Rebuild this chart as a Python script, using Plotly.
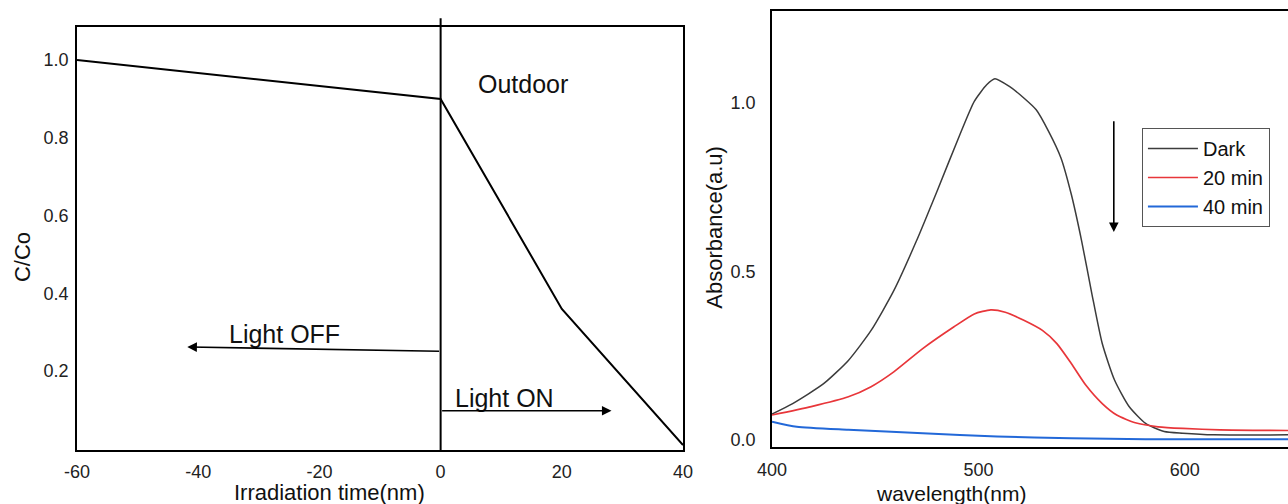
import plotly.graph_objects as go

# ---------------- data ----------------
# left panel: C/Co vs irradiation time
time_min = [-60, 0, 20, 40]
c_over_c0 = [1.0, 0.9, 0.36, 0.01]
left_xticks = [-60, -40, -20, 0, 20, 40]
left_xticklabels = ["-60", "-40", "-20", "0", "20", "40"]
left_yticks = [0.2, 0.4, 0.6, 0.8, 1.0]
left_yticklabels = ["0.2", "0.4", "0.6", "0.8", "1.0"]

# right panel: absorbance spectra
wl_dark = [400, 410, 425, 437, 448, 459, 470, 480, 491, 498, 504, 508, 515, 522, 528,
           534, 540, 545, 550, 555, 560, 566, 573, 581, 590, 599, 614, 650]
abs_dark = [0.077, 0.108, 0.167, 0.236, 0.325, 0.443, 0.591, 0.739, 0.906, 1.005, 1.054,
            1.072, 1.049, 1.015, 0.980, 0.916, 0.837, 0.729, 0.591, 0.433, 0.286, 0.177,
            0.099, 0.049, 0.025, 0.020, 0.015, 0.015]
wl_20 = [400, 419, 437, 448, 459, 473, 488, 498, 506, 513, 522, 531, 538, 545, 552, 560,
         567, 576, 587, 599, 617, 650]
abs_20 = [0.074, 0.099, 0.128, 0.158, 0.202, 0.271, 0.335, 0.374, 0.386, 0.379, 0.355,
          0.325, 0.286, 0.227, 0.163, 0.108, 0.074, 0.051, 0.039, 0.034, 0.030, 0.028]
wl_40 = [400, 412, 437, 473, 509, 545, 581, 650]
abs_40 = [0.054, 0.039, 0.030, 0.020, 0.010, 0.005, 0.002, 0.002]
right_xticks = [400, 500, 600]
right_yticks = [0.0, 0.5, 1.0]
right_yticklabels = ["0.0", "0.5", "1.0"]

FONT = "Liberation Sans, Arial, sans-serif"
TICKFONT = dict(family=FONT, size=18, color="#222")

fig = go.Figure()

fig.add_trace(go.Scatter(x=time_min, y=c_over_c0, mode="lines",
                         line=dict(color="black", width=2),
                         xaxis="x", yaxis="y", showlegend=False))

fig.add_trace(go.Scatter(x=wl_dark, y=abs_dark, mode="lines", name="Dark",
                         line=dict(color="#3c3c3c", width=1.5, shape="spline", smoothing=0.6),
                         xaxis="x2", yaxis="y2"))
fig.add_trace(go.Scatter(x=wl_20, y=abs_20, mode="lines", name="20 min",
                         line=dict(color="#e8363a", width=1.7, shape="spline", smoothing=0.6),
                         xaxis="x2", yaxis="y2"))
fig.add_trace(go.Scatter(x=wl_40, y=abs_40, mode="lines", name="40 min",
                         line=dict(color="#2268d8", width=2, shape="spline", smoothing=0.6),
                         xaxis="x2", yaxis="y2"))

axis_common = dict(showgrid=False, zeroline=False, showline=True, linecolor="black",
                   linewidth=2, ticks="", tickfont=TICKFONT, automargin=False)

fig.update_layout(
    width=1288, height=504,
    margin=dict(l=0, r=0, t=0, b=0, autoexpand=False),
    paper_bgcolor="white", plot_bgcolor="white",
    xaxis=dict(domain=[0.0598, 0.5303], range=[-60, 40], mirror=True,
               tickvals=left_xticks, ticktext=left_xticklabels,
               ticklabelstandoff=4, anchor="y", **axis_common),
    yaxis=dict(domain=[0.1071, 0.9464], range=[-0.003, 1.085], mirror=True,
               tickvals=left_yticks, ticktext=left_yticklabels,
               ticklabelstandoff=3, anchor="x", **axis_common),
    xaxis2=dict(domain=[0.5994, 1.0], range=[400, 650], mirror=True,
                tickvals=right_xticks, ticklabelstandoff=5, anchor="y2", **axis_common),
    yaxis2=dict(domain=[0.1131, 0.9788], range=[-0.021, 1.274], mirror=False,
                tickvals=right_yticks, ticktext=right_yticklabels,
                ticklabelstandoff=11, anchor="x2", **axis_common),
    legend=dict(x=0.8866, y=0.746, xanchor="left", yanchor="top",
                bgcolor="white", bordercolor="#555", borderwidth=1,
                font=dict(family=FONT, size=20, color="#111"),
                itemwidth=50, tracegroupgap=0),
    showlegend=True,
)

# vertical divider at t = 0
fig.add_shape(type="line", xref="x", yref="paper", x0=0, x1=0, y0=0.107, y1=0.964,
              line=dict(color="black", width=2))

ann_font = dict(family=FONT, size=25, color="#111")
title_font = dict(family=FONT, size=22, color="#111")

annotations = [
    dict(text="Outdoor", x=13.6, y=0.938, xref="x", yref="y", showarrow=False, font=ann_font),
    dict(text="Light OFF", x=-25.8, y=0.295, xref="x", yref="y", showarrow=False, font=ann_font),
    dict(text="Light ON", x=10.6, y=0.13, xref="x", yref="y", showarrow=False, font=ann_font),
    # arrows
    dict(x=-41.8, y=0.262, ax=0, ay=0.251, xref="x", yref="y", axref="x", ayref="y",
         showarrow=True, arrowhead=2, arrowsize=1.2, arrowwidth=1.6, arrowcolor="black", text=""),
    dict(x=28.2, y=0.098, ax=0, ay=0.098, xref="x", yref="y", axref="x", ayref="y",
         showarrow=True, arrowhead=2, arrowsize=1.2, arrowwidth=1.6, arrowcolor="black", text=""),
    dict(x=565.6, y=0.617, ax=565.6, ay=0.95, xref="x2", yref="y2", axref="x2", ayref="y2",
         showarrow=True, arrowhead=2, arrowsize=1.2, arrowwidth=1.6, arrowcolor="black", text=""),
    # axis titles
    dict(text="Irradiation time(nm)", x=0.2562, y=0.0, xref="paper", yref="paper",
         showarrow=False, font=title_font, xanchor="center", yanchor="bottom", yshift=-3),
    dict(text="C/Co", x=0.0171, y=0.49, xref="paper", yref="paper", textangle=-90,
         showarrow=False, font=title_font, xanchor="center", yanchor="middle"),
    dict(text="wavelength(nm)", x=0.7384, y=0.0, xref="paper", yref="paper",
         showarrow=False, font=dict(family=FONT, size=21, color="#111"),
         xanchor="center", yanchor="bottom", yshift=-3),
    dict(text="Absorbance(a.u)", x=0.5551, y=0.55, xref="paper", yref="paper", textangle=-90,
         showarrow=False, font=title_font, xanchor="center", yanchor="middle"),
]
fig.update_layout(annotations=annotations)

fig.write_html("out.html")
